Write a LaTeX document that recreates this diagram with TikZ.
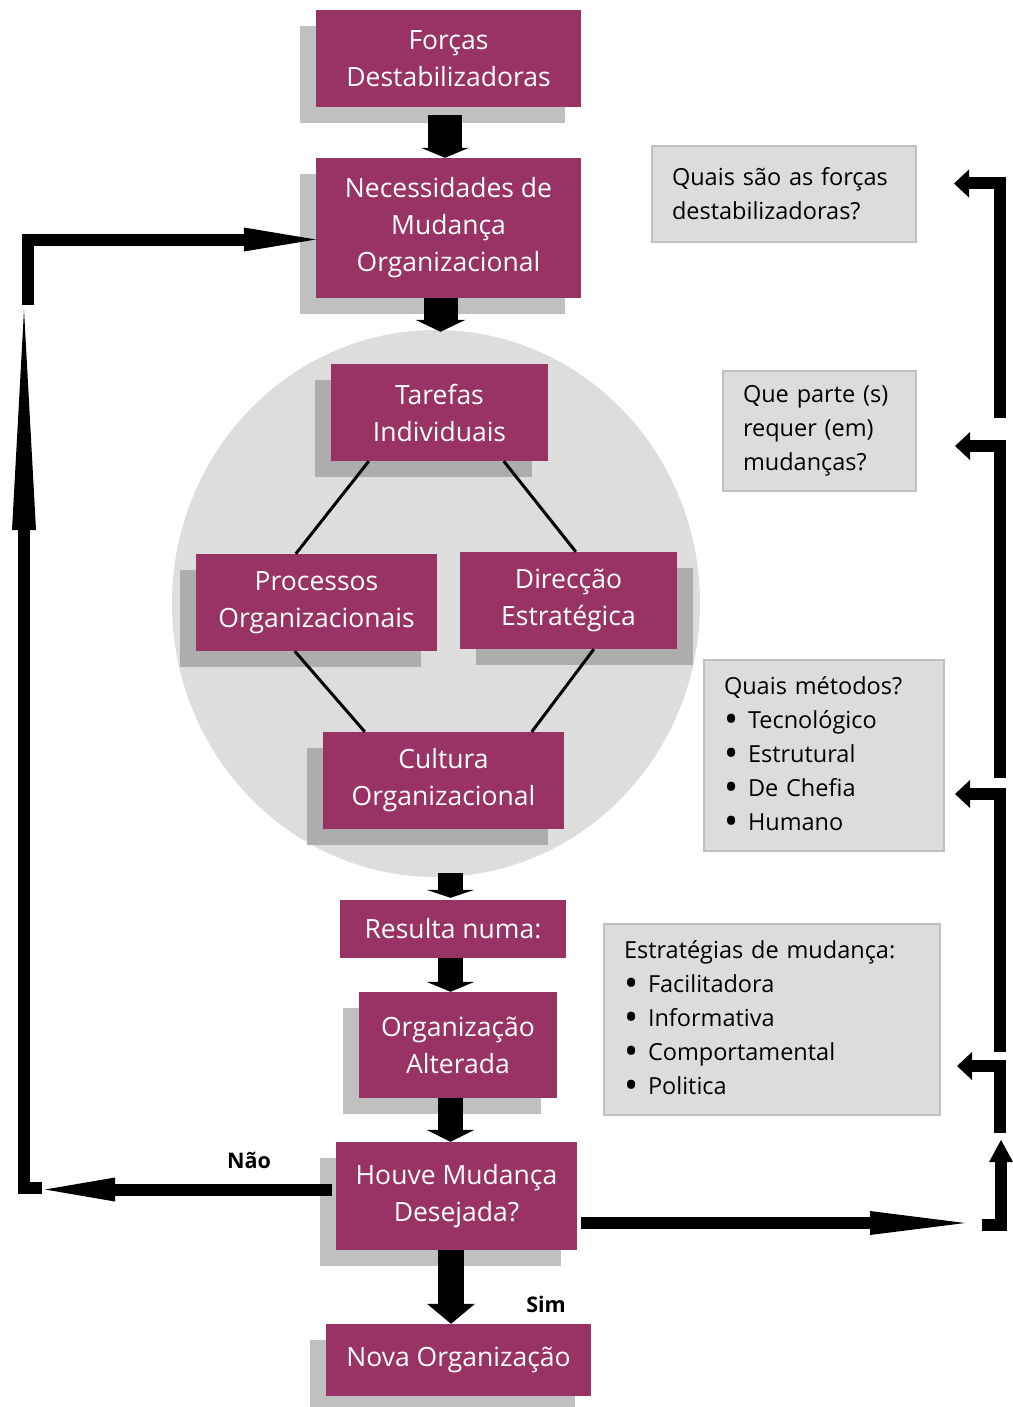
\documentclass[tikz,border=0pt]{standalone}
\usepackage{fontspec}
\setmainfont{Open Sans}
\usetikzlibrary{arrows.meta,calc,shadows,shapes.geometric}

\definecolor{plum}{HTML}{993366}
\definecolor{discgray}{HTML}{DDDDDD}
\definecolor{shadeout}{HTML}{C0C0C0}
\definecolor{shadein}{HTML}{ADADAD}
\definecolor{notefill}{HTML}{DCDCDC}
\definecolor{noteline}{HTML}{C0C0C0}

\newcommand{\bul}{\makebox[24pt][l]{\raisebox{-4.5pt}{\scalebox{1.6}{\textbullet}}}}

\begin{document}
\begin{tikzpicture}[x=1pt,y=-1pt,
  stage/.style={fill=plum, text=white, align=center, inner sep=0pt,
    font=\fontsize{26.5}{37}\selectfont},
  shadeL/.style={drop shadow={shadow xshift=-16pt, shadow yshift=-16pt,
    fill=#1, opacity=1}},
  shadeR/.style={drop shadow={shadow xshift=16pt, shadow yshift=-16pt,
    fill=#1, opacity=1}},
  note/.style={fill=notefill, draw=noteline, line width=2pt, align=left,
    inner xsep=20pt, inner ysep=0pt, font=\fontsize{23.5}{34}\selectfont},
  blockarr/.style n args={3}{line width=#1,
    -{Triangle[length=#3 0 0, width=#2 0 0, line width=0pt 0 0]}},
  thinarr/.style 2 args={line width=12pt,
    -{Triangle[length=#1 0 0, width=#2 0 0, line width=0pt 0 0]}},
  link/.style={line width=3pt},
  answer/.style={font=\fontsize{21.5}{24}\selectfont\bfseries, inner sep=0pt}
]
\fill[white] (0,0) rectangle (1012,1407);
\useasboundingbox (0,0) rectangle (1012,1407);

% central disc grouping the organisational components
\node[ellipse, fill=discgray, minimum width=528pt, minimum height=547pt,
  inner sep=0pt] (disc) at (436,603.5) {};

% main flow
\node[stage, shadeL=shadeout, minimum width=265pt, minimum height=97pt]
  (forcas) at (448.5,58.5) {Forças\\Destabilizadoras};
\node[stage, shadeL=shadeout, minimum width=265pt, minimum height=140pt]
  (necess) at (448.5,228) {Necessidades de\\Mudança\\Organizacional};
\node[stage, shadeL=shadein, minimum width=217pt, minimum height=97pt]
  (tarefas) at (439.5,412.5) {Tarefas\\Individuais};
\node[stage, shadeL=shadein, minimum width=241pt, minimum height=97pt]
  (processos) at (316.5,602.5) {Processos\\Organizacionais};
\node[stage, shadeR=shadein, minimum width=217pt, minimum height=97pt]
  (direccao) at (568.5,600.5) {Direcção\\Estratégica};
\node[stage, shadeL=shadein, minimum width=241pt, minimum height=97pt]
  (cultura) at (443.5,780.5) {Cultura\\Organizacional};
\node[stage, minimum width=226pt, minimum height=58pt]
  (resulta) at (453,929) {Resulta numa:};
\node[stage, shadeL=shadeout, minimum width=198pt, minimum height=106pt]
  (orgalt) at (458,1045) {Organização\\Alterada};
\node[stage, shadeL=shadeout, minimum width=241pt, minimum height=108pt]
  (houve) at (456.5,1196) {Houve Mudança\\Desejada?};
\node[stage, shadeL=shadeout, minimum width=265pt, minimum height=72pt]
  (nova) at (458.5,1360) {Nova Organização};

% links between the components inside the disc
\draw[link] ($(tarefas.south west)+(38,0)$) -- ($(processos.north west)+(100,0)$);
\draw[link] ($(tarefas.south west)+(173,0)$) -- ($(direccao.north west)+(116,0)$);
\draw[link] ($(processos.south west)+(99,0)$) -- ($(cultura.north west)+(42,0)$);
\draw[link] ($(direccao.south west)+(134,0)$) -- ($(cultura.north west)+(209,0)$);

% block arrows down the main flow
\draw[blockarr={34pt}{48pt}{10pt}] ($(forcas.south)+(-3.5,8)$) -- ($(necess.north)+(-3.5,0)$);
\draw[blockarr={34pt}{50pt}{12pt}] ($(necess.south)+(-8,0)$) -- ($(disc.north)+(4.5,2)$);
\draw[blockarr={25pt}{48pt}{8pt}] ($(disc.south)+(14.5,-4)$) -- ($(resulta.north)+(-2.5,-2)$);
\draw[blockarr={25pt}{48pt}{10pt}] ($(resulta.south)+(-2.5,0)$) -- ($(orgalt.north)+(-7.5,0)$);
\draw[blockarr={25pt}{48pt}{12pt}] ($(orgalt.south)+(-7.5,0)$) -- ($(houve.north)+(-6,0)$);
\draw[blockarr={26pt}{48pt}{20pt}] ($(houve.south)+(-5.5,0)$) -- ($(nova.north)+(-7.5,0)$);

\node[answer] (sim) at (546,1304) {Sim};
\node[answer] (nao) at (249,1160) {Não};

% feedback loop on the left ("Não")
\coordinate (naoTip) at (45,1189.5);
\coordinate (loopBase) at (42,1187.5);
\coordinate (loopTip) at (24,310);
\coordinate (loopTop) at (28,305);
\coordinate (necIn) at ($(necess.west)+(0,11.5)$);
\draw[thinarr={70pt}{24pt}] ($(houve.west)+(-4,-6.5)$) -- (naoTip);
\draw[thinarr={220pt}{24pt}] (loopBase) -- (loopBase -| loopTip) -- (loopTip);
\draw[thinarr={72pt}{24pt}] (loopTop) -- (loopTop |- necIn) -- (necIn);

% questions on the right
\node[note, text width=224pt, minimum height=96pt] (q1) at (784,194)
  {Quais são as forças\\destabilizadoras?};
\node[note, text width=153pt, minimum height=120pt] (q2) at (819.5,431)
  {Que parte (s)\\requer (em)\\mudanças?};
\node[note, text width=200pt, minimum height=191pt] (q3) at (824,755.5)
  {Quais métodos?\\\bul Tecnológico\\\bul Estrutural\\\bul De Chefia\\\bul Humano};
\node[note, text width=296pt, minimum height=191pt] (q4) at (772,1019.5)
  {Estratégias de mudança:\\\bul Facilitadora\\\bul Informativa\\\bul Comportamental\\\bul Politica};

% chain of arrows on the right
\coordinate (outTip) at (965,1223);
\draw[thinarr={95pt}{24pt}] ($(houve.east)+(4,27)$) -- (outTip);
\coordinate (upBase) at (982,1225);
\coordinate (upTip) at (1001,1140);
\draw[thinarr={22pt}{24pt}] (upBase) -- (upBase -| upTip) -- (upTip);

\coordinate (b1) at (1000,418);  \coordinate (c1) at (1000,183.5); \coordinate (t1) at (954,183.5);
\coordinate (b2) at (1000,778);  \coordinate (c2) at (1000,446);   \coordinate (t2) at (955,446);
\coordinate (b3) at (1000,1052); \coordinate (c3) at (1000,794);   \coordinate (t3) at (955,794);
\coordinate (b4) at (1000,1133); \coordinate (c4) at (1000,1066);  \coordinate (t4) at (957,1066);
\foreach \k in {1,2,3,4}
  \draw[thinarr={15pt}{28pt}] (b\k) -- (c\k) -- (t\k);
\end{tikzpicture}
\end{document}
